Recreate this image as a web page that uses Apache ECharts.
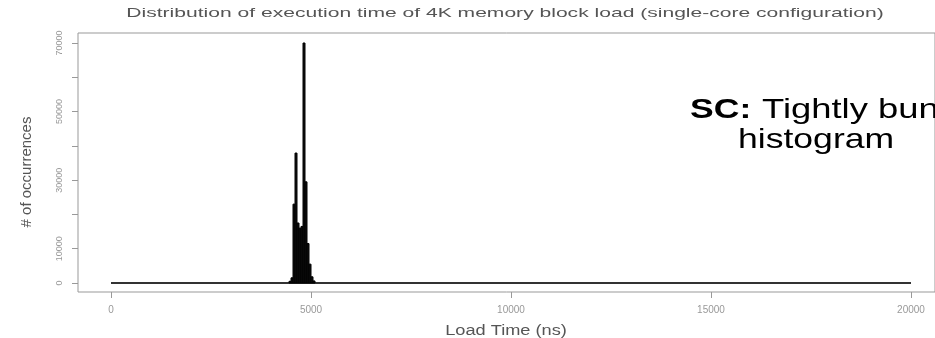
<!DOCTYPE html>
<html>
<head>
<meta charset="utf-8">
<script src="https://cdn.jsdelivr.net/npm/echarts@6/dist/echarts.min.js"></script>
<style>
html,body{margin:0;padding:0;background:#fff;}
#c{width:935px;height:338px;}
</style>
</head>
<body>
<div id="c"></div>
<script>
// Histogram bins (ns) and counts
const binStarts = [4450, 4500, 4550, 4600, 4650, 4700, 4750, 4800, 4850, 4900, 4950, 5000, 5050];
const binWidth = 50;
const counts =    [500, 1500, 23000, 37900, 17500, 16000, 16500, 70000, 29500, 11500, 5500, 1800, 600];
// Full histogram range (zero-count bins form the baseline)
const rangeX = [0, 20000];
const rangeY = [0, 0];
// Tick values / labels
const xTicks = [0, 5000, 10000, 15000, 20000];
const yTicks = [0, 10000, 20000, 30000, 40000, 50000, 60000, 70000];
const yLabels = [0, 10000, 30000, 50000, 70000];

const titleText = 'Distribution of execution time of 4K memory block load (single-core configuration)';
const xName = 'Load Time (ns)';
const yName = '# of occurrences';

const binData = binStarts.map((s, i) => [s, s + binWidth, counts[i]]);
const baseData = rangeX.map((x, i) => [x, rangeY[i]]);

const chart = echarts.init(document.getElementById('c'), null, {renderer: 'canvas'});
chart.setOption({
  animation: false,
  backgroundColor: '#fff',
  grid: {left: 78, right: 0, top: 33, bottom: 46, show: true, borderColor: '#999', borderWidth: 1, containLabel: false},
  xAxis: {
    type: 'value', min: -825, max: 20600,
    axisLine: {show: false, onZero: false},
    splitLine: {show: false},
    axisTick: {show: true, customValues: xTicks, length: 6, lineStyle: {color: '#999'}},
    axisLabel: {customValues: xTicks, margin: 13, fontSize: 10, color: '#999', fontFamily: 'Liberation Sans', formatter: v => String(v)}
  },
  yAxis: {
    type: 'value', min: -2625, max: 72917,
    axisLine: {show: false, onZero: false},
    splitLine: {show: false},
    axisTick: {show: true, customValues: yTicks, length: 6, lineStyle: {color: '#999'}},
    axisLabel: {customValues: yLabels, rotate: 90, margin: 14, fontSize: 9, color: '#999', fontFamily: 'Liberation Sans', formatter: v => String(v)}
  },
  series: [
    {
      type: 'line', data: baseData, symbol: 'none',
      lineStyle: {color: '#333', width: 2}, z: 2
    },
    {
      type: 'custom', data: binData, z: 3,
      renderItem: function (params, api) {
        const p0 = api.coord([api.value(0), api.value(2)]);
        const p1 = api.coord([api.value(1), 0]);
        return {
          type: 'rect',
          shape: {x: p0[0], y: p0[1], width: p1[0] - p0[0], height: p1[1] - p0[1]},
          style: {fill: '#111', stroke: '#000', lineWidth: 1}
        };
      }
    }
  ],
  graphic: [
    {type: 'text', x: 505, y: 13, scaleX: 1.62, style: {text: titleText, font: '13px "Liberation Sans"', fill: '#555', textAlign: 'center', textVerticalAlign: 'middle'}},
    {type: 'text', x: 506, y: 331, scaleX: 1.3, style: {text: xName, font: '14px "Liberation Sans"', fill: '#555', textAlign: 'center', textVerticalAlign: 'middle'}},
    {type: 'text', x: 27, y: 172, rotation: Math.PI / 2, style: {text: yName, font: '15px "Liberation Sans"', fill: '#555', textAlign: 'center', textVerticalAlign: 'middle'}},
    {type: 'text', x: 690, y: 110, scaleX: 1.27, style: {text: 'SC:', font: 'bold 28px "Liberation Sans"', fill: '#000', textAlign: 'left', textVerticalAlign: 'middle'}},
    {type: 'text', x: 762, y: 110, scaleX: 1.3, style: {text: 'Tightly bunched', font: '28px "Liberation Sans"', fill: '#000', textAlign: 'left', textVerticalAlign: 'middle'}},
    {type: 'text', x: 738, y: 140, scaleX: 1.27, style: {text: 'histogram', font: '28px "Liberation Sans"', fill: '#000', textAlign: 'left', textVerticalAlign: 'middle'}}
  ]
});
</script>
</body>
</html>
